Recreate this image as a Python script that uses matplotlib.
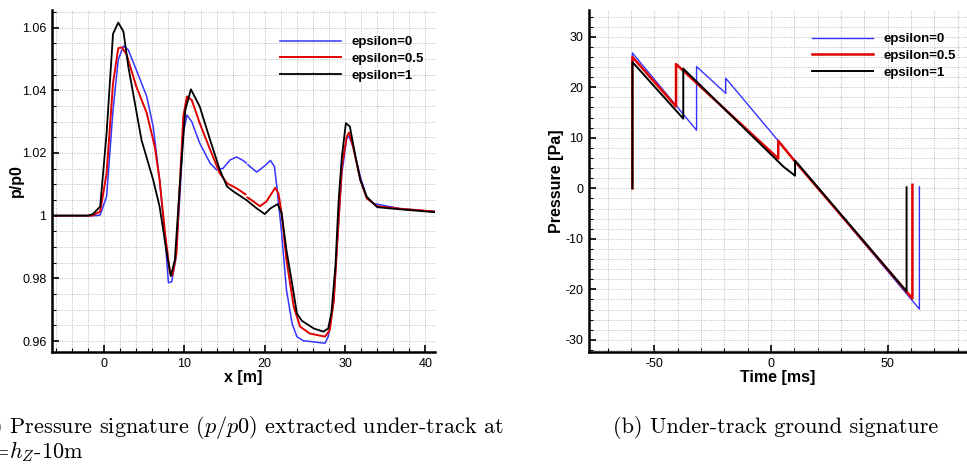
import matplotlib
matplotlib.use("Agg")
import matplotlib.pyplot as plt
from matplotlib.ticker import MultipleLocator, FuncFormatter
import numpy as np

plt.rcParams.update({
    "font.family": ["Liberation Sans", "DejaVu Sans"],
    "axes.unicode_minus": False,
    "mathtext.fontset": "cm",
})

# ---------------------------------------------------------------------
# (a) pressure signature p/p0 under-track
# ---------------------------------------------------------------------
x_eps0 = [-6.5, -2.0, -1.0, -0.5, 0.3, 1.1, 1.75, 2.4, 3.0, 4.0, 5.3, 6.1, 6.9,
          7.6, 8.0, 8.4, 8.9, 9.4, 9.85, 10.3, 10.9, 11.9, 13.2, 14.0, 14.8,
          15.7, 16.5, 17.3, 17.7, 17.8, 17.9, 19.0, 20.0, 20.7, 21.2, 21.5,
          22.1, 22.7, 23.4, 24.0, 24.8, 27.5, 27.9, 28.6, 29.1, 29.6, 30.2,
          30.5, 31.0, 31.9, 32.7, 33.5, 36.9, 41.2]
p_eps0 = [1.0, 1.0, 1.0, 1.0002, 1.0061, 1.0337, 1.0497, 1.0541, 1.0529, 1.0465,
          1.038, 1.0284, 1.0114, 0.9922, 0.9786, 0.9789, 0.9859, 1.005, 1.0263,
          1.0321, 1.030, 1.0231, 1.0167, 1.0146, 1.0151, 1.0178, 1.0187,
          1.0176, 1.0168, np.nan, 1.0162, 1.0139, 1.0159, 1.0176, 1.0157,
          1.0093, 0.9944, 0.9763, 0.9656, 0.9614, 0.9601, 0.9593, 0.9614,
          0.973, 0.9944, 1.0135, 1.0247, 1.0252, 1.022, 1.0124, 1.006, 1.0039,
          1.0022, 1.0013]

x_eps05 = [-6.5, -2.0, -1.5, -0.5, 0.3, 1.1, 1.75, 2.2, 2.8, 4.0, 5.3, 6.3, 6.9,
           7.6, 8.2, 8.5, 9.0, 9.4, 9.85, 10.3, 10.9, 11.9, 13.2, 14.4, 15.3,
           16.5, 17.6, 17.7, 17.85, 18.6, 19.4, 20.2, 21.3, 21.7, 22.1, 22.7,
           23.6, 24.4, 25.6, 27.5, 28.1, 28.6, 29.1, 29.6, 30.2, 30.5, 31.0,
           31.9, 32.7, 34.0, 36.9, 41.2]
p_eps05 = [1.0, 1.0, 1.0, 1.0013, 1.0135, 1.0422, 1.0534, 1.0537, 1.0513, 1.0412,
           1.0327, 1.022, 1.0114, 0.994, 0.9816, 0.981, 0.988, 1.009, 1.0316,
           1.038, 1.0369, 1.0295, 1.021, 1.0135, 1.0103, 1.0087, 1.0068, np.nan,
           1.0058, 1.0045, 1.003, 1.0045, 1.0089, 1.0071, 1.0007, 0.9859, 0.971,
           0.9646, 0.9624, 0.9614, 0.9635, 0.973, 0.9944, 1.0156, 1.0252,
           1.0265, 1.022, 1.0114, 1.0055, 1.003, 1.0022, 1.0013]

x_eps1 = [-6.5, -2.0, -1.4, -0.5, 0.3, 1.1, 1.75, 2.4, 3.0, 4.65, 6.1, 6.9,
          7.8, 8.3, 8.8, 9.4, 10.1, 10.8, 11.9, 13.2, 14.4, 15.3, 16.1, 17.7,
          19.0, 20.0, 20.7, 21.6, 22.1, 22.7, 23.4, 24.0, 24.6, 26.1, 27.3,
          27.9, 28.3, 28.8, 29.2, 29.6, 30.1, 30.6, 31.3, 31.9, 32.7, 34.0,
          36.9, 41.2]
p_eps1 = [1.0, 1.0, 1.0005, 1.0029, 1.0263, 1.058, 1.0616, 1.0587, 1.0476,
          1.0241, 1.0114, 1.0029, 0.988, 0.9807, 0.9859, 1.009, 1.0337, 1.0403,
          1.0348, 1.0241, 1.0146, 1.0093, 1.0077, 1.005, 1.0023, 1.0005,
          1.0023, 1.0037, 1.0007, 0.989, 0.9784, 0.9688, 0.9665, 0.964, 0.963,
          0.964, 0.969, 0.984, 1.005, 1.0188, 1.0295, 1.0284, 1.0188, 1.0114,
          1.006, 1.0027, 1.002, 1.0011]

# ---------------------------------------------------------------------
# (b) under-track ground signature
# ---------------------------------------------------------------------
t_eps0 = [-59.4, -59.4, -31.9, -31.9, -19.4, -19.4, 63.6, 63.6]
pa_eps0 = [0.0, 26.8, 11.5, 24.1, 18.8, 21.8, -23.9, 0.3]

t_eps05 = [-59.4, -59.4, -40.7, -40.7, 3.1, 3.1, 10.3, 60.6, 60.6]
pa_eps05 = [0.0, 26.0, 16.2, 24.6, 5.9, 9.4, 5.3, -21.8, 0.7]

t_eps1 = [-59.4, -59.4, -37.6, -37.6, 3.1, 5.3, 10.3, 10.3, 58.1, 58.1]
pa_eps1 = [0.0, 25.0, 13.8, 23.7, 5.3, 4.3, 2.5, 5.5, -20.4, 0.2]

labels = ["epsilon=0", "epsilon=0.5", "epsilon=1"]
colors = ["#3434ff", "#e00000", "black"]
widths_a = [1.1, 1.4, 1.3]
widths_b = [1.0, 1.8, 1.4]

W, H = 967, 465
fig = plt.figure(figsize=(W / 100, H / 100), dpi=100)


def style_axes(ax):
    for s in ["top", "right"]:
        ax.spines[s].set_visible(False)
    for s in ["left", "bottom"]:
        ax.spines[s].set_linewidth(1.8)
    ax.tick_params(which="major", direction="in", length=5, width=1.2,
                   labelsize=9, pad=4)
    ax.tick_params(which="minor", direction="in", length=3, width=0.8)
    ax.grid(which="both", color="#b8b8b8", linestyle=(0, (1, 1.5)),
            linewidth=0.7)
    ax.set_axisbelow(True)


legend_kw = dict(bbox_transform=fig.transFigure, frameon=False, loc="upper left",
                 prop={"weight": "bold", "size": 9.5}, handlelength=4.6,
                 handletextpad=0.8, labelspacing=0.35, borderpad=0,
                 borderaxespad=0)

axL = fig.add_axes([52 / W, 1 - 352 / H, (435 - 52) / W, (352 - 10) / H])
for xs, ys, c, lw, lab in zip([x_eps0, x_eps05, x_eps1],
                              [p_eps0, p_eps05, p_eps1],
                              colors, widths_a, labels):
    axL.plot(xs, ys, color=c, lw=lw, label=lab)
axL.set_xlim(-6.5, 41.2)
axL.set_ylim(0.9565, 1.0656)
axL.xaxis.set_major_locator(MultipleLocator(10))
axL.xaxis.set_minor_locator(MultipleLocator(2))
axL.yaxis.set_major_locator(MultipleLocator(0.02))
axL.yaxis.set_minor_locator(MultipleLocator(0.005))
axL.yaxis.set_major_formatter(FuncFormatter(lambda v, p: f"{v:.2f}".rstrip("0").rstrip(".")))
style_axes(axL)
axL.set_xlabel("x [m]", fontsize=11.5, fontweight="bold", labelpad=0)
axL.set_ylabel("p/p0", fontsize=11.5, fontweight="bold")
axL.yaxis.set_label_coords((24 - 52) / 383, 0.5)
axL.legend(bbox_to_anchor=(280 / W, 1 - 36 / H), **legend_kw)

axR = fig.add_axes([589 / W, 1 - 352 / H, (967 - 589) / W, (352 - 10) / H])
for xs, ys, c, lw, lab in zip([t_eps0, t_eps05, t_eps1],
                              [pa_eps0, pa_eps05, pa_eps1],
                              colors, widths_b, labels):
    axR.plot(xs, ys, color=c, lw=lw, label=lab)
axR.set_xlim(-78, 84)
axR.set_ylim(-32.4, 35.3)
axR.xaxis.set_major_locator(MultipleLocator(50))
axR.xaxis.set_minor_locator(MultipleLocator(10))
axR.yaxis.set_major_locator(MultipleLocator(10))
axR.yaxis.set_minor_locator(MultipleLocator(2))
style_axes(axR)
axR.set_xlabel("Time [ms]", fontsize=11.5, fontweight="bold", labelpad=0)
axR.set_ylabel("Pressure [Pa]", fontsize=11.5, fontweight="bold", labelpad=1)
axR.legend(bbox_to_anchor=(812 / W, 1 - 33 / H), **legend_kw)

# captions
cap_kw = dict(fontsize=16, family="cmr10", va="center", ha="left")
fig.text(-26 / W, 1 - 427 / H,
         r"(a) Pressure signature ($p/p0$) extracted under-track at", **cap_kw)
fig.text(-18 / W, 1 - 452 / H, r"z=$h_Z$-10m", **cap_kw)
fig.text(613 / W, 1 - 427 / H, "(b) Under-track ground signature", **cap_kw)

fig.savefig("out.png", dpi=100)
